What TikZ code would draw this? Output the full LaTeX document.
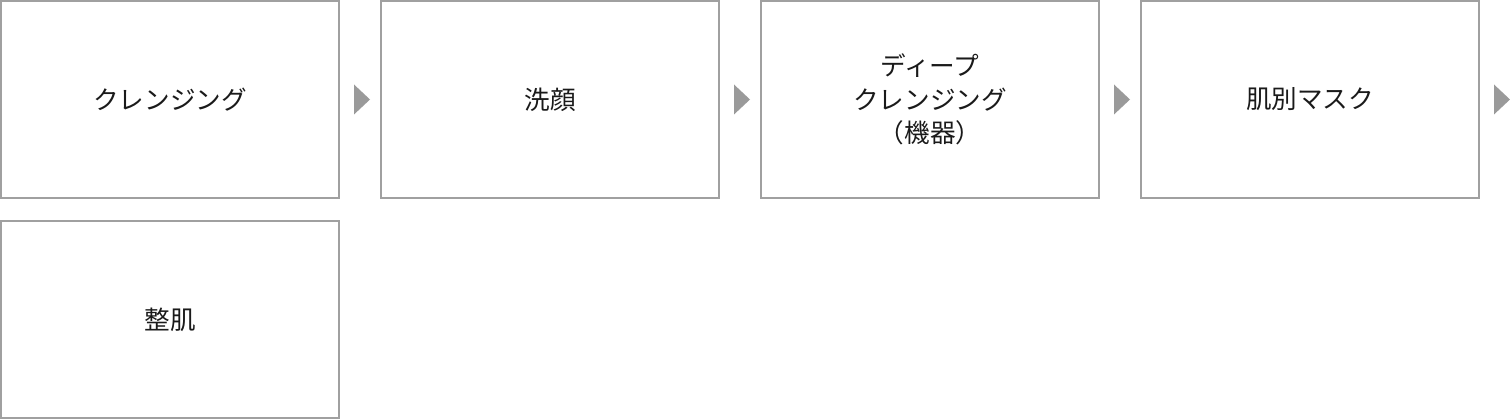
\documentclass[tikz,border=0pt]{standalone}
\usepackage{fontspec}
\newfontfamily\jp{Noto Sans CJK JP}
\definecolor{boxline}{HTML}{A0A0A0}
\definecolor{arrowgray}{HTML}{9A9A9A}
\definecolor{txt}{HTML}{1A1A1A}
\begin{document}
\begin{tikzpicture}[x=0.75pt,y=-0.75pt,
  stepbox/.style={draw=boxline,line width=1.5pt,rectangle,minimum width=253.5pt,minimum height=147.75pt,inner sep=0pt,outer sep=0pt,align=center,text=txt,font=\jp\fontsize{19.2pt}{25pt}\selectfont},
  arr/.style={fill=arrowgray,draw=none}]
\useasboundingbox (0,0) rectangle (1510,420);
\node[stepbox] (b1) at (170,99.5) {クレンジング};
\node[stepbox] (b2) at (550,99.5) {洗顔};
\node[stepbox] (b3) at (930,99.5) {ディープ\\クレンジング\\（機器）};
\node[stepbox] (b4) at (1310,99.5) {肌別マスク};
\node[stepbox] (b5) at (170,319.5) {整肌};
\foreach \b in {b1,b2,b3,b4}{
  \fill[arr] ([shift={(15,-15)}]\b.east) -- ([shift={(31,0)}]\b.east) -- ([shift={(15,15)}]\b.east) -- cycle;
}
\end{tikzpicture}
\end{document}
